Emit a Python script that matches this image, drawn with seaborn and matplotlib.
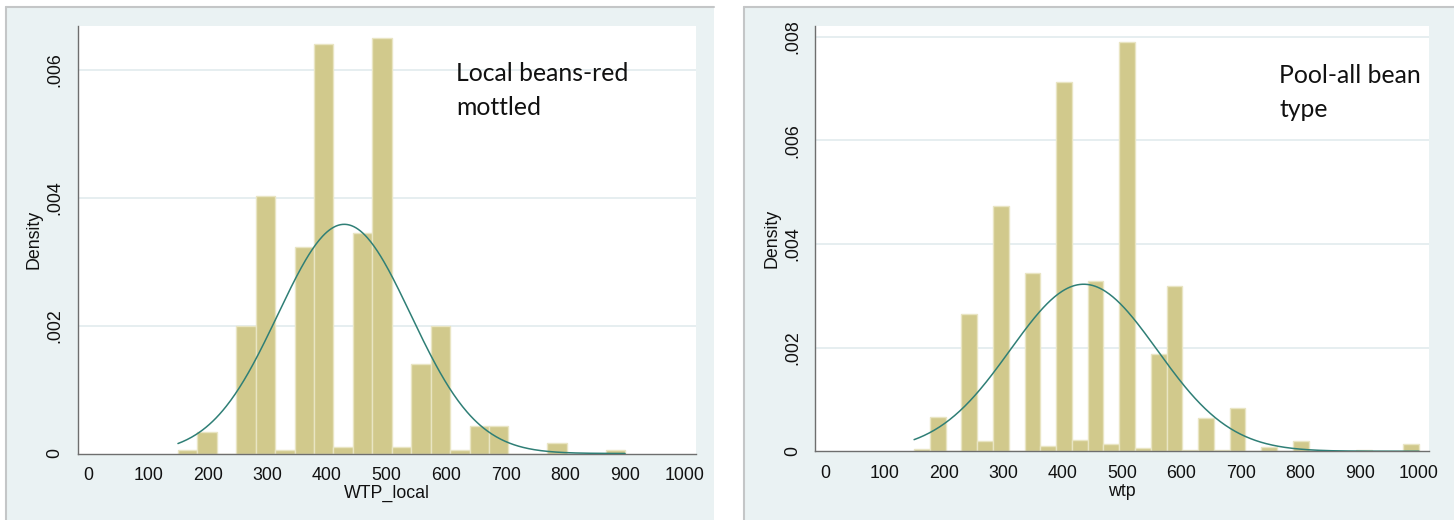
import numpy as np
import pandas as pd
import matplotlib
matplotlib.use("Agg")
import matplotlib.pyplot as plt
from matplotlib.patches import Rectangle
from matplotlib.lines import Line2D
import seaborn as sns

# ---------------- data ----------------
left_bin_start, left_bin_end, left_n_bins = 150, 900, 23
left_density = [0.000057, 0.000330, 0.0, 0.00199, 0.00403, 0.000057, 0.003226,
                0.006395, 0.000109, 0.003439, 0.006494, 0.000109, 0.001397,
                0.00199, 0.000057, 0.000430, 0.000430, 0.0, 0.0, 0.000160,
                0.0, 0.0, 0.000050]
left_mean, left_sd = 429.0, 111.4

right_bin_start, right_bin_end, right_n_bins = 150, 1000, 32
right_density = [0.000039, 0.000655, 0.0, 0.002645, 0.000206, 0.004743, 0.000012,
                 0.00345, 0.000109, 0.007125, 0.000219, 0.003295, 0.000142,
                 0.00791, 0.000071, 0.00188, 0.0032, 0.000020, 0.00065,
                 0.000020, 0.00084, 0.0, 0.00008, 0.0, 0.000200, 0.0, 0.0,
                 0.0, 0.000025, 0.0, 0.0, 0.000138]
right_mean, right_sd = 435.5, 123.7

x_ticks = [0, 100, 200, 300, 400, 500, 600, 700, 800, 900, 1000]
left_yticks = [0, 0.002, 0.004, 0.006]
left_yticklabels = ["0", ".002", ".004", ".006"]
right_yticks = [0, 0.002, 0.004, 0.006, 0.008]
right_yticklabels = ["0", ".002", ".004", ".006", ".008"]

left_xlabel, right_xlabel = "WTP_local", "wtp"
ylabel = "Density"
left_note = "Local beans-red\nmottled"
right_note = "Pool-all bean\ntype"

# ---------------- style ----------------
sns.set_theme(style="white")
plt.rcParams["font.family"] = ["Liberation Sans", "DejaVu Sans"]
FS = 12.8
plt.rcParams["xtick.labelsize"] = FS
plt.rcParams["ytick.labelsize"] = FS

W, H = 1454, 520
fig = plt.figure(figsize=(W / 100, H / 100), dpi=100)
fig.patch.set_facecolor("white")

PANEL = "#EAF2F3"
BORDER = "#C4C6C7"
BAR = "#D1C98C"
BAR_EDGE = "#E9E5C3"
CURVE = "#2F7F76"
GRID = "#E6EEF0"

def px(x0, y0, x1, y1):
    # pixel box (top-left origin) -> figure fraction rect
    return [x0 / W, 1 - y1 / H, (x1 - x0) / W, (y1 - y0) / H]

# panel backgrounds
for (x0, x1) in [(6, 714), (744, 1454)]:
    fig.patches.append(Rectangle((x0 / W, 0), (x1 - x0) / W, 1 - 7 / H,
                                 transform=fig.transFigure, facecolor=PANEL,
                                 edgecolor="none", zorder=-3))
    fig.lines.append(Line2D([x0 / W, x1 / W], [1 - 7 / H, 1 - 7 / H],
                            transform=fig.transFigure, color=BORDER, lw=1.5,
                            zorder=-2))
    fig.lines.append(Line2D([x0 / W, x0 / W], [0, 1 - 7 / H],
                            transform=fig.transFigure, color=BORDER, lw=1.5,
                            zorder=-2))

ax1 = fig.add_axes(px(77.5, 26, 696, 453.5))
ax2 = fig.add_axes(px(815, 26, 1429, 451.3))


def draw(ax, start, end, nb, dens, mu, sd, yt, ytl, ylim_top, xlim, xlab,
         note, note_xy, ylab_x):
    width = (end - start) / nb
    centers = start + width * (np.arange(nb) + 0.5)
    df = pd.DataFrame({"x": centers, "d": dens})
    sns.histplot(data=df, x="x", weights="d", bins=nb, binrange=(start, end),
                 stat="count", color=BAR, edgecolor=BAR_EDGE, linewidth=1.0,
                 alpha=1.0, ax=ax, zorder=2)
    xs = np.linspace(start, end, 400)
    ys = np.exp(-0.5 * ((xs - mu) / sd) ** 2) / (sd * np.sqrt(2 * np.pi))
    sns.lineplot(x=xs, y=ys, color=CURVE, lw=1.1, ax=ax, zorder=3)
    ax.set_xlim(*xlim)
    ax.set_ylim(0, ylim_top)
    ax.set_facecolor("white")
    ax.set_xticks(x_ticks)
    ax.set_xticklabels([str(t) for t in x_ticks])
    ax.set_yticks(yt)
    ax.set_yticklabels(ytl, rotation=90, va="center")
    for y in yt[1:]:
        ax.axhline(y, color=GRID, lw=1.4, zorder=1)
    for s in ["top", "right"]:
        ax.spines[s].set_visible(False)
    for s in ["left", "bottom"]:
        ax.spines[s].set_color("#6E6E6E")
        ax.spines[s].set_linewidth(1.0)
    ax.tick_params(axis="both", length=6, width=1.0, color="#8A8A8A",
                   pad=4, labelcolor="#111111", direction="out",
                   labelsize=FS)
    ax.set_xlabel(xlab, fontsize=FS, color="#111111")
    ax.set_ylabel(ylabel, fontsize=FS, color="#111111")
    ax.xaxis.set_label_coords(0.5, -0.074)
    ax.yaxis.set_label_coords(ylab_x, 0.5)
    ax.grid(False)
    ax.text(note_xy[0], note_xy[1], note, transform=ax.transAxes,
            fontsize=17.8, family=["Lato", "DejaVu Sans"], color="#111111",
            va="top", ha="left", linespacing=1.6)


draw(ax1, left_bin_start, left_bin_end, left_n_bins, left_density,
     left_mean, left_sd, left_yticks, left_yticklabels, 0.00668,
     (-18.5, 1019), left_xlabel, left_note,
     ((456 - 77.5) / 618.5, 1 - (62 - 26) / 427.5), -0.056)
draw(ax2, right_bin_start, right_bin_end, right_n_bins, right_density,
     right_mean, right_sd, right_yticks, right_yticklabels, 0.00821,
     (-16.8, 1016.8), right_xlabel, right_note,
     ((1279 - 815) / 614, 1 - (64 - 26) / 425.3), -0.057)

fig.savefig("out.png", dpi=100, facecolor="white")
